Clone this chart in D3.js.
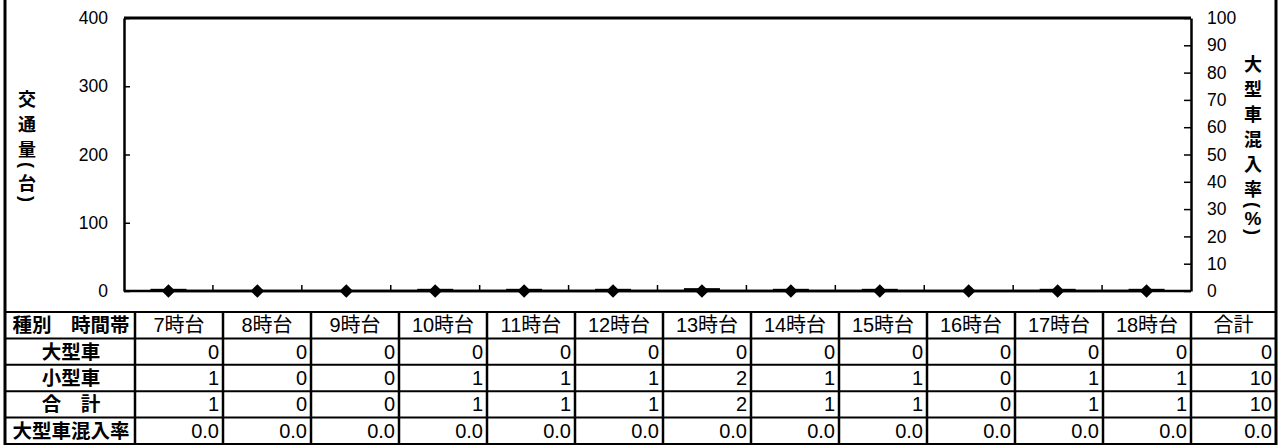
<!DOCTYPE html>
<html>
<head>
<meta charset="utf-8">
<script src="https://cdn.jsdelivr.net/npm/d3@7"></script>
<style>
	html, body { margin: 0; padding: 0; background: #fff; }
	svg { display: block; }
	.tick text { font-family: "Liberation Sans", Arial, sans-serif; font-size: 17.5px; fill: #000; }
	.cell { font-family: "Liberation Sans", "Noto Sans CJK JP", sans-serif; font-size: 20px; fill: #000; }
	.jp { font-family: "Noto Sans CJK JP", sans-serif; font-weight: 700; font-size: 18px; fill: #000; }
</style>
</head>
<body>
<div id="chart"></div>
<script>
/* データ */
const hours = ["7時台", "8時台", "9時台", "10時台", "11時台", "12時台", "13時台", "14時台", "15時台", "16時台", "17時台", "18時台"];
const large = [0, 0, 0, 0, 0, 0, 0, 0, 0, 0, 0, 0];
const small = [1, 0, 0, 1, 1, 1, 2, 1, 1, 0, 1, 1];
const total = [1, 0, 0, 1, 1, 1, 2, 1, 1, 0, 1, 1];
const ratio = [0.0, 0.0, 0.0, 0.0, 0.0, 0.0, 0.0, 0.0, 0.0, 0.0, 0.0, 0.0];
const sumLarge = 0, sumSmall = 10, sumTotal = 10, sumRatio = 0.0;
const leftTicks = [0, 100, 200, 300, 400];
const rightTicks = [0, 10, 20, 30, 40, 50, 60, 70, 80, 90, 100];
const rowLabels = ["種別　時間帯", "大型車", "小型車", "合　計", "大型車混入率"];

const W = 1280, H = 445;
const P = { left: 124, right: 1191, top: 18, bottom: 291 };

const svg = d3.select("#chart").append("svg").attr("width", W).attr("height", H);

const x = d3.scaleBand().domain(hours).range([P.left, P.right]).padding(0);
const y = d3.scaleLinear().domain([0, 400]).range([P.bottom, P.top]);
const y2 = d3.scaleLinear().domain([0, 100]).range([P.bottom, P.top]);

// 外枠
svg.append("line").attr("x1", 5).attr("x2", 5).attr("y1", 0).attr("y2", H).attr("stroke", "#000").attr("stroke-width", 3);
svg.append("line").attr("x1", 1276).attr("x2", 1276).attr("y1", 0).attr("y2", H).attr("stroke", "#000").attr("stroke-width", 3);

// 棒（積み上げ）
const bw = 36;
const stacks = hours.map((h, i) => ({ h, large: large[i], small: small[i] }));
svg.append("g").selectAll("rect.l").data(stacks).join("rect")
	.attr("x", d => x(d.h) + (x.bandwidth() - bw) / 2)
	.attr("y", d => y(d.large))
	.attr("width", bw)
	.attr("height", d => y(0) - y(d.large))
	.attr("fill", "#000");
svg.append("g").selectAll("rect.s").data(stacks).join("rect")
	.attr("x", d => x(d.h) + (x.bandwidth() - bw) / 2)
	.attr("y", d => y(d.large + d.small) - 1.5)
	.attr("width", bw)
	.attr("height", d => y(d.large) - y(d.large + d.small) + (d.small ? 1.5 : 0))
	.attr("fill", "#000");

// 左軸
const gl = svg.append("g").attr("transform", `translate(${P.left},0)`)
	.call(d3.axisLeft(y).tickValues(leftTicks).tickSize(-6).tickPadding(16).tickSizeOuter(0));
gl.select(".domain").attr("stroke-width", 2.5);
gl.selectAll(".tick line").attr("stroke-width", 1.5);

// 右軸
const gr = svg.append("g").attr("transform", `translate(${P.right},0)`)
	.call(d3.axisRight(y2).tickValues(rightTicks).tickSize(-7).tickPadding(16).tickSizeOuter(0));
gr.select(".domain").attr("stroke-width", 2.5);
gr.selectAll(".tick line").attr("stroke-width", 1.5);

// 上枠・下軸
svg.append("line").attr("x1", P.left).attr("x2", P.right).attr("y1", P.top).attr("y2", P.top).attr("stroke", "#000").attr("stroke-width", 3);
svg.append("line").attr("x1", P.left).attr("x2", P.right).attr("y1", P.bottom).attr("y2", P.bottom).attr("stroke", "#000").attr("stroke-width", 2.5);
svg.append("g").selectAll("line").data(hours.slice(1)).join("line")
	.attr("x1", d => x(d)).attr("x2", d => x(d))
	.attr("y1", P.bottom).attr("y2", P.bottom - 6)
	.attr("stroke", "#000").attr("stroke-width", 1.5);

// 大型車混入率（折れ線）
const pts = hours.map((h, i) => ({ h, v: ratio[i] }));
svg.append("path").datum(pts)
	.attr("d", d3.line().x(d => x(d.h) + x.bandwidth() / 2).y(d => y2(d.v)))
	.attr("fill", "none").attr("stroke", "#000").attr("stroke-width", 2.5);
svg.append("g").selectAll("path").data(pts).join("path")
	.attr("d", d3.symbol(d3.symbolSquare, 92))
	.attr("transform", d => `translate(${x(d.h) + x.bandwidth() / 2},${y2(d.v)}) rotate(45)`)
	.attr("fill", "#000");

// 縦書きタイトル
function vtitle(str, cx, cy0) {
	const half = c => /[()]/.test(c) ? 4.5 : (c === "%" ? 9 : 12.5);
	const g = svg.append("g");
	let yy = cy0;
	[...str].forEach((c, i) => {
		if (i > 0) yy += half(str[i - 1]) + half(c);
		const t = g.append("text").attr("class", "jp")
			.attr("x", cx).attr("y", yy)
			.attr("text-anchor", "middle").attr("dominant-baseline", "central")
			.text(c);
		if (/[()]/.test(c)) {
			t.style("font-family", "'Liberation Sans', sans-serif").attr("transform", `rotate(90,${cx},${yy})`);
		}
		if (c === "%") t.style("font-family", "'Liberation Sans', sans-serif").style("font-size", "19px");
	});
}
vtitle("交通量(台)", 27, 98);
vtitle("大型車混入率(%)", 1253, 63);

// 表
const tTop = 312, tBot = 444, c0L = 5, c0R = 135, cEnd = 1276;
const tx = d3.scaleBand().domain(hours).range([c0R, P.right]);
const ty = d3.scaleBand().domain(rowLabels).range([tTop, tBot]);

const tbl = svg.append("g");
// 横線
tbl.selectAll("line.h").data([...rowLabels.map(r => ty(r)), tBot]).join("line")
	.attr("x1", c0L).attr("x2", cEnd).attr("y1", d => d).attr("y2", d => d)
	.attr("stroke", "#000").attr("stroke-width", 2);
// 縦線
tbl.selectAll("line.v").data([c0R, ...hours.map(h => tx(h) + tx.bandwidth())]).join("line")
	.attr("x1", d => d).attr("x2", d => d).attr("y1", tTop).attr("y2", tBot)
	.attr("stroke", "#000").attr("stroke-width", 2.5);

const rowMid = r => ty(r) + ty.bandwidth() / 2;
// 見出し列
tbl.selectAll("text.rl").data(rowLabels).join("text").attr("class", "cell")
	.attr("x", (c0L + c0R) / 2 + 1).attr("y", d => rowMid(d))
	.attr("text-anchor", "middle").attr("dominant-baseline", "central")
	.style("font-size", "19.5px")
	.style("font-weight", 700)
	.text(d => d);
// 時間帯見出し
tbl.selectAll("text.hd").data([...hours, "合計"]).join("text").attr("class", "cell")
	.attr("x", d => d === "合計" ? (P.right + cEnd) / 2 : tx(d) + tx.bandwidth() / 2)
	.attr("y", rowMid(rowLabels[0]))
	.attr("text-anchor", "middle").attr("dominant-baseline", "central")
	.text(d => d);

const rows = [
	{ key: rowLabels[1], vals: large, sum: sumLarge, fmt: d3.format("d") },
	{ key: rowLabels[2], vals: small, sum: sumSmall, fmt: d3.format("d") },
	{ key: rowLabels[3], vals: total, sum: sumTotal, fmt: d3.format("d") },
	{ key: rowLabels[4], vals: ratio, sum: sumRatio, fmt: d3.format(".1f") }
];
rows.forEach(r => {
	const cells = hours.map((h, i) => ({ xr: tx(h) + tx.bandwidth() - 4, v: r.vals[i] }));
	cells.push({ xr: cEnd - 4, v: r.sum });
	tbl.append("g").selectAll("text").data(cells).join("text").attr("class", "cell")
		.attr("x", d => d.xr).attr("y", rowMid(r.key))
		.attr("text-anchor", "end").attr("dominant-baseline", "central")
		.text(d => r.fmt(d.v));
});
</script>
</body>
</html>
